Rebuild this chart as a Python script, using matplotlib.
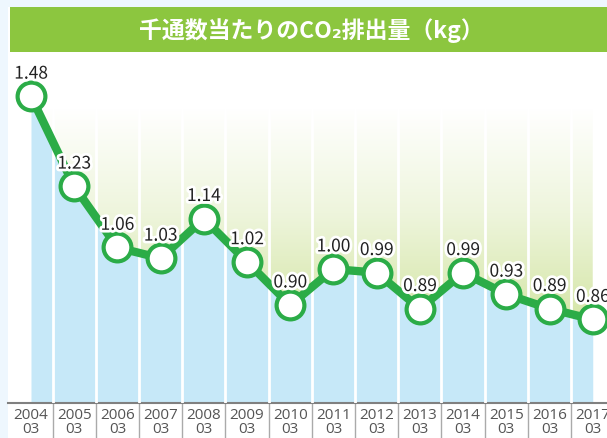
import numpy as np
import matplotlib.pyplot as plt
import matplotlib.patheffects as pe
from matplotlib.colors import LinearSegmentedColormap
from matplotlib.patches import Rectangle, Polygon

plt.rcParams['font.family'] = ['Noto Sans CJK JP', 'DejaVu Sans']

# data
years = ['2004', '2005', '2006', '2007', '2008', '2009', '2010',
         '2011', '2012', '2013', '2014', '2015', '2016', '2017']
months = ['03'] * len(years)
co2 = [1.48, 1.23, 1.06, 1.03, 1.14, 1.02, 0.90,
       1.00, 0.99, 0.89, 0.99, 0.93, 0.89, 0.86]
title = '千通数当たりのCO₂排出量（kg）'

W, H = 607, 439
fig = plt.figure(figsize=(W / 100, H / 100), dpi=100, facecolor='#eef7fe')

# white panel and green title bar
fig.patches.append(Rectangle((8 / W, 0), 1, 1 - 8 / H, transform=fig.transFigure,
                             facecolor='white', edgecolor='none', zorder=-2))
fig.patches.append(Rectangle((10 / W, 1 - 53 / H), 1, 45 / H, transform=fig.transFigure,
                             facecolor='#8cc63f', edgecolor='none', zorder=-1))
fig.text(0.513, 1 - 31 / H, title, color='white', fontsize=16.5, fontweight='bold',
         ha='center', va='center')

ax = fig.add_axes([8 / W, 1 - 404 / H, 1 - 8 / W, (404 - 53) / H])
ax.set_zorder(2)
ax.set_facecolor('none')
x = np.arange(len(co2))
y = np.array(co2)
ybot = 0.628
ytop_grad = 1.444
ax.set_xlim(-0.532, 13.33)
ax.set_ylim(ybot, 1.603)

# gradient above the line
cmap = LinearSegmentedColormap.from_list('g', ['#d5e6a8', '#eef5dc', '#ffffff'])
grad = np.linspace(0, 1, 256).reshape(-1, 1)
im = ax.imshow(grad, cmap=cmap, origin='lower', aspect='auto',
               extent=[0, len(co2) - 1, 0.86, ytop_grad], zorder=1)
poly = Polygon(np.vstack([np.column_stack([x, y]),
                          [[x[-1], ytop_grad], [x[0], ytop_grad]]]),
               transform=ax.transData, facecolor='none', edgecolor='none')
ax.add_patch(poly)
im.set_clip_path(poly)

# blue area below the line
ax.fill_between(x, y, ybot, color='#c6e8f8', lw=0, zorder=2)

# white column separators
for b in x[:-1] + 0.5:
    ax.plot([b, b], [ybot, ytop_grad], color='white', lw=2, zorder=3)

# line and markers
ax.plot(x, y, color='#2bac47', lw=6, solid_joinstyle='round', zorder=4,
        marker='o', ms=20, mfc='white', mec='#2bac47', mew=3, clip_on=False)

for xi, yi in zip(x, y):
    ax.text(xi, yi + 0.038, f'{yi:.2f}', ha='center', va='bottom', fontsize=12.5,
            color='#222222', zorder=5, clip_on=False,
            path_effects=[pe.withStroke(linewidth=4, foreground='white')])

# axis
for s in ['top', 'right', 'left']:
    ax.spines[s].set_visible(False)
ax.spines['bottom'].set_color('#808080')
ax.spines['bottom'].set_linewidth(1.5)
ax.set_yticks([])
ax.set_xticks(x)
ax.set_xticklabels([f'{a}\n{m}' for a, m in zip(years, months)],
                   fontsize=11, color='#555555', linespacing=0.85,
                   fontfamily='Open Sans')
ax.tick_params(axis='x', which='major', length=0, pad=3)
ax.set_xticks(x[:-1] + 0.5, minor=True)
ax.tick_params(axis='x', which='minor', length=26, color='#aaaaaa', width=1)

fig.savefig('out.png', dpi=100, facecolor=fig.get_facecolor())
